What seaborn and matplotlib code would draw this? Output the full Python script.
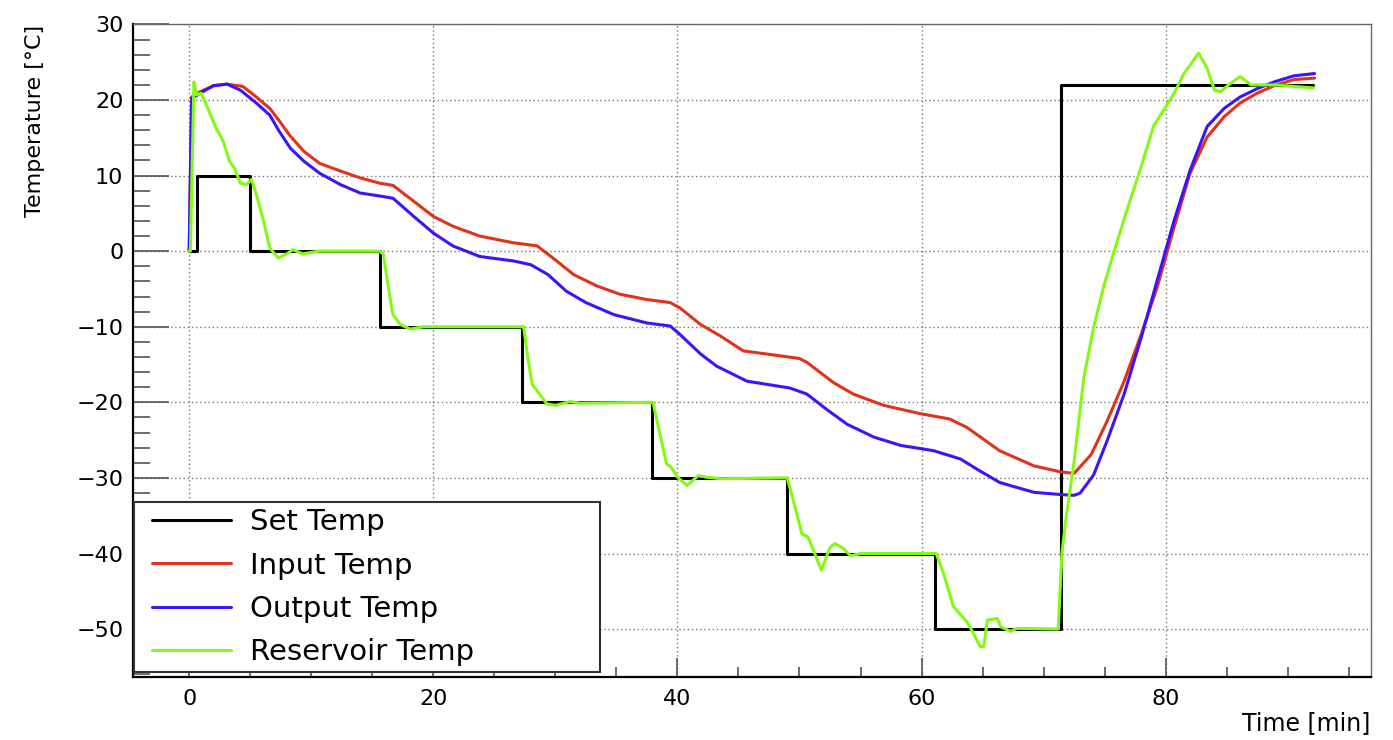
import pandas as pd
import matplotlib.pyplot as plt
import seaborn as sns
from matplotlib.lines import Line2D
from matplotlib.legend_handler import HandlerLine2D
from matplotlib.ticker import MultipleLocator

# Set point (step function, value holds until next change)
set_time = [0, 0.66, 5.0, 15.6, 27.3, 37.9, 49.0, 61.1, 71.4, 92.1]
set_temp = [0, 10, 0, -10, -20, -30, -40, -50, 22, 22]

input_time = [0, 0.2, 0.9, 2.0, 3.1, 4.4, 5.5, 6.6, 7.4, 8.3, 9.4, 10.7, 12.4, 14.0,
              15.6, 16.7, 18.4, 20.0, 21.6, 23.8, 26.6, 28.5, 29.8, 31.5, 33.4, 35.3,
              37.5, 39.4, 40.2, 41.9, 43.5, 45.4, 47.3, 50.0, 50.6, 52.8, 54.4, 56.9,
              59.9, 62.3, 63.7, 66.4, 69.2, 71.4, 72.5, 73.9, 75.2, 76.6, 78.0, 79.3,
              80.0, 80.7, 82.0, 83.4, 84.8, 86.1, 87.5, 88.9, 90.5, 92.2]
input_temp = [0, 20.4, 21.1, 21.9, 22.1, 21.8, 20.4, 18.9, 17.2, 15.2, 13.2, 11.6, 10.6, 9.7,
              9.0, 8.7, 6.6, 4.6, 3.3, 2.0, 1.1, 0.7, -0.9, -3.1, -4.6, -5.7,
              -6.4, -6.8, -7.5, -9.7, -11.2, -13.2, -13.6, -14.2, -14.7, -17.4, -18.9, -20.4,
              -21.5, -22.2, -23.3, -26.4, -28.4, -29.2, -29.4, -26.9, -22.5, -17.2, -11.0, -4.8,
              -0.8, 3.2, 10.3, 15.1, 17.8, 19.6, 20.9, 21.9, 22.7, 22.9]

output_time = [0, 0.2, 0.9, 2.0, 3.1, 4.2, 5.5, 6.6, 7.4, 8.3, 9.4, 10.7, 12.4, 14.0,
               15.6, 16.7, 18.4, 20.0, 21.6, 23.8, 26.6, 28.0, 29.4, 30.9, 32.5, 34.8,
               37.5, 39.4, 40.2, 41.9, 43.2, 45.7, 49.2, 50.6, 52.2, 53.9, 56.1, 58.3,
               61.0, 63.2, 64.5, 66.4, 69.2, 71.4, 72.5, 73.0, 74.1, 75.2, 76.6, 78.0,
               79.3, 80.0, 80.7, 82.0, 83.4, 84.8, 86.1, 87.5, 88.9, 90.5, 92.2]
output_temp = [0, 20.2, 20.9, 21.9, 22.1, 21.3, 19.6, 18.0, 15.8, 13.6, 11.9, 10.3, 8.8, 7.7,
               7.3, 7.0, 4.6, 2.4, 0.7, -0.7, -1.3, -1.8, -3.1, -5.3, -6.8, -8.4,
               -9.5, -9.9, -11.0, -13.6, -15.2, -17.2, -18.1, -18.9, -20.9, -22.9, -24.6, -25.7,
               -26.4, -27.5, -28.8, -30.6, -31.9, -32.2, -32.3, -32.0, -29.6, -25.1, -18.9, -11.4,
               -3.9, 0.1, 4.1, 10.7, 16.5, 18.9, 20.4, 21.5, 22.4, 23.2, 23.5]

reservoir_time = [0, 0.1, 0.39, 0.6, 1.0, 1.4, 2.2, 2.8, 3.3, 3.7, 4.2, 4.7, 5.1, 5.5,
                  6.1, 6.6, 7.3, 8.0, 8.5, 9.3, 10.6, 15.6, 15.9, 16.5, 16.7, 17.3, 18.1, 19.2,
                  27.4, 27.7, 28.1, 28.7, 29.3, 30.0, 31.2, 32.0, 38.0, 38.5, 39.1, 39.5,
                  40.0, 40.8, 41.7, 42.4, 43.5, 49.0, 49.5, 50.2, 50.7, 51.8, 52.5, 52.9,
                  53.5, 54.2, 55.0, 61.2, 61.8, 62.6, 63.2, 63.7, 64.1, 64.8, 65.1, 65.4,
                  66.2, 66.5, 67.3, 67.8, 71.2, 71.5, 71.8, 72.5, 73.3, 74.1, 74.9, 75.8,
                  76.9, 78.0, 79.0, 80.0, 80.7, 81.5, 82.3, 82.7, 83.4, 84.0, 84.5, 85.3,
                  86.1, 87.0, 88.9, 92.1]
reservoir_temp = [0, 0, 22.4, 20.7, 20.9, 19.4, 16.3, 14.5, 11.9, 11.0, 9.0, 8.8, 9.5, 7.5,
                  4.0, 0.4, -0.9, -0.35, 0.2, -0.35, 0, 0, -0.4, -6.6, -8.4, -9.7, -10.3, -10.0,
                  -10.0, -13.6, -17.6, -18.9, -20.2, -20.4, -19.9, -20.1, -20.0, -23.7, -28.1, -28.6,
                  -29.9, -31.0, -29.7, -29.9, -30.1, -30.0, -33.0, -37.4, -37.8, -42.2, -39.2, -38.7,
                  -39.2, -40.3, -40.0, -40.0, -42.6, -47.0, -48.1, -49.0, -50.1, -52.3, -52.3, -48.8,
                  -48.6, -49.7, -50.3, -49.9, -50.0, -40.0, -35.8, -27.8, -16.7, -10.1, -4.8, 0.1,
                  5.8, 11.2, 16.5, 19.1, 20.9, 23.5, 25.3, 26.2, 24.2, 21.3, 21.1, 22.2,
                  23.1, 22.0, 22.0, 21.6]

sns.set_style("white")
plt.rcParams['font.family'] = ['DejaVu Sans']
plt.rcParams['text.color'] = 'black'
plt.rcParams['axes.labelcolor'] = 'black'

fig = plt.figure(figsize=(13.93, 7.40), dpi=100)
ax = fig.add_axes([0.0955, 0.0855, 0.8885, 0.8815])

lw = 2.2
sns.lineplot(x=set_time, y=set_temp, ax=ax, color="black", lw=lw, label="Set Temp",
             drawstyle="steps-post", sort=False, estimator=None)
sns.lineplot(x=input_time, y=input_temp, ax=ax, color="#e1321a", lw=lw, label="Input Temp",
             sort=False, estimator=None)
sns.lineplot(x=output_time, y=output_temp, ax=ax, color="#3c14fa", lw=lw, label="Output Temp",
             sort=False, estimator=None)
sns.lineplot(x=reservoir_time, y=reservoir_temp, ax=ax, color="#82fa14", lw=lw,
             label="Reservoir Temp", sort=False, estimator=None)

ax.set_xlim(-4.6, 96.8)
ax.set_ylim(-56.3, 30)
ax.xaxis.set_major_locator(MultipleLocator(20))
ax.xaxis.set_minor_locator(MultipleLocator(5))
ax.yaxis.set_major_locator(MultipleLocator(10))
ax.yaxis.set_minor_locator(MultipleLocator(2))

ax.grid(True, which="major", color="#777777", linestyle=(0, (1, 2)), linewidth=1)
ax.tick_params(axis="both", which="both", direction="in", colors="#555555", width=1.2,
               labelcolor="black", labelsize=16, bottom=True, left=True,
               top=False, right=False)
ax.tick_params(axis="y", which="major", length=26, pad=7)
ax.tick_params(axis="y", which="minor", length=12)
ax.tick_params(axis="x", which="major", length=14, pad=9)
ax.tick_params(axis="x", which="minor", length=7)

for side in ["left", "bottom"]:
    ax.spines[side].set_color("black")
    ax.spines[side].set_linewidth(1.6)
for side in ["top", "right"]:
    ax.spines[side].set_color("#666666")
    ax.spines[side].set_linewidth(1.0)

ax.set_xlabel("Time [min]", fontsize=17, loc="right")
ax.set_ylabel("Temperature [°C]", fontsize=16, loc="top")
ax.xaxis.set_label_coords(1.0, -0.052)
ax.yaxis.set_label_coords(-0.071, 1.0)

leg = ax.legend(loc="lower left", bbox_to_anchor=(0.001, 0.0067, 0.376, 0.263), mode="expand",
                fontsize=21, handlelength=3.1, handletextpad=0.65, labelspacing=0.52,
                borderpad=0.22, fancybox=False, framealpha=1, edgecolor="#333333",
                borderaxespad=0, handler_map={Line2D: HandlerLine2D(xpad=0.4)})
leg.get_frame().set_linewidth(1.5)
for txt in leg.get_texts():
    txt.set_color("black")

fig.savefig("out.png", dpi=100)
